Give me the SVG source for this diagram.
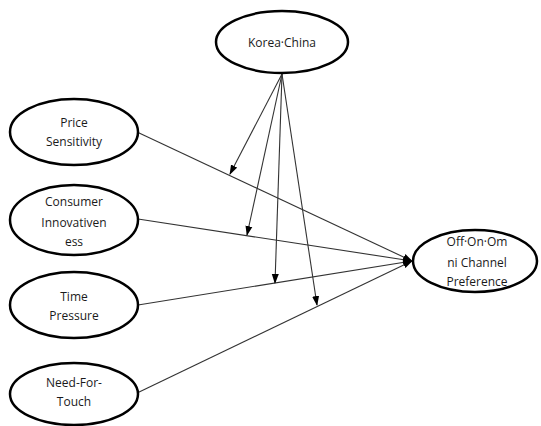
<svg xmlns="http://www.w3.org/2000/svg" width="541" height="426" viewBox="0 0 541 426">
<style>
.n ellipse{fill:#fff;stroke:#000;stroke-width:2.5}
.n text{font-family:"Open Sans","Liberation Sans",Arial,sans-serif;font-size:12px;fill:#1a1a1a;text-anchor:middle}
.c line{stroke:#333;stroke-width:1.1;fill:none}
</style>
<defs>
<marker id="ah" markerWidth="10" markerHeight="8" refX="9" refY="4" orient="auto" markerUnits="userSpaceOnUse">
<path d="M0,0.5 L10,4 L0,7.5 Z" fill="#000"/>
</marker>
</defs>
<rect width="541" height="426" fill="#fff"/>
<g class="c" id="connectors">
<line x1="137" y1="132" x2="412" y2="261" marker-end="url(#ah)"/>
<line x1="138" y1="219" x2="412" y2="261" marker-end="url(#ah)"/>
<line x1="138" y1="305" x2="412" y2="261" marker-end="url(#ah)"/>
<line x1="135" y1="394" x2="412" y2="261" marker-end="url(#ah)"/>
<line x1="282" y1="74" x2="230" y2="174" marker-end="url(#ah)"/>
<line x1="282" y1="74" x2="247" y2="235" marker-end="url(#ah)"/>
<line x1="282" y1="74" x2="275" y2="283" marker-end="url(#ah)"/>
<line x1="282" y1="74" x2="317" y2="305" marker-end="url(#ah)"/>
</g>
<g class="n" id="korea-china">
<ellipse cx="282" cy="42" rx="66" ry="31"/>
<text x="282" y="47">Korea·China</text>
</g>
<g class="n" id="price-sensitivity">
<ellipse cx="74" cy="132" rx="64" ry="33"/>
<text x="74" y="127">Price</text>
<text x="74" y="146">Sensitivity</text>
</g>
<g class="n" id="consumer-innovativeness">
<ellipse cx="74" cy="220" rx="64" ry="35"/>
<text x="74" y="206">Consumer</text>
<text x="74" y="227">Innovativen</text>
<text x="74" y="246">ess</text>
</g>
<g class="n" id="time-pressure">
<ellipse cx="74" cy="305" rx="64" ry="33"/>
<text x="74" y="301">Time</text>
<text x="74" y="320">Pressure</text>
</g>
<g class="n" id="need-for-touch">
<ellipse cx="74" cy="394" rx="64" ry="31"/>
<text x="74" y="387">Need-For-</text>
<text x="74" y="406">Touch</text>
</g>
<g class="n" id="off-on-omni">
<ellipse cx="475" cy="261" rx="62" ry="31"/>
<text x="477" y="246">Off·On·Om</text>
<text x="477" y="267">ni Channel</text>
<text x="477" y="286">Preference</text>
</g>
</svg>
